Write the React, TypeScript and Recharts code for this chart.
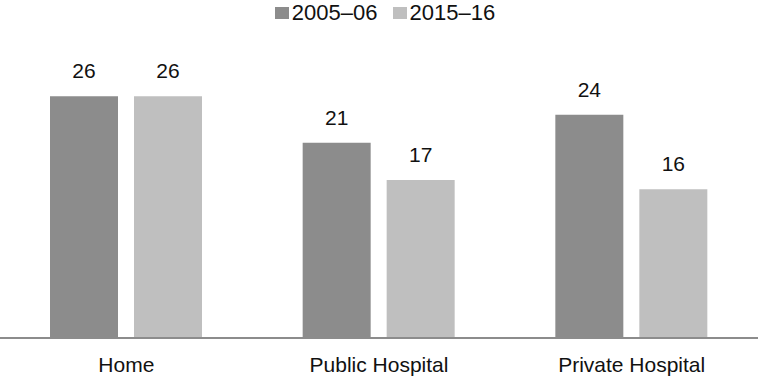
import { Bar, BarChart, LabelList, Legend, XAxis, YAxis } from "recharts";

const categories = ["Home", "Public Hospital", "Private Hospital"];
const values0506 = [26, 21, 24];
const values1516 = [26, 17, 16];
const seriesNames = ["2005–06", "2015–16"];
const seriesColors = ["#8c8c8c", "#bfbfbf"];

const data = categories.map((name, i) => ({
  name,
  a: values0506[i],
  b: values1516[i],
}));

function LegendBox() {
  return (
    <div style={{ display: "flex", justifyContent: "center", gap: 15, height: 26, paddingLeft: 12 }}>
      {seriesNames.map((n, i) => (
        <div key={n} style={{ display: "flex", alignItems: "center", gap: 3 }}>
          <span style={{ width: 14, height: 12, background: seriesColors[i], display: "inline-block" }} />
          <span style={{ fontSize: 22, color: "#111", lineHeight: "26px" }}>{n}</span>
        </div>
      ))}
    </div>
  );
}

export default function App() {
  return (
    <div
      style={{
        position: "absolute",
        left: 0,
        top: 0,
        width: 758,
        height: 379,
        background: "#fff",
        fontFamily: "'Liberation Sans', Arial, sans-serif",
      }}
    >
      <BarChart
        width={758}
        height={379}
        data={data}
        margin={{ top: 33, right: 0, left: 0, bottom: 0 }}
        barSize={68}
        barGap={16}
      >
        <Legend
          verticalAlign="top"
          height={26}
          wrapperStyle={{ top: 0 }}
          content={() => <LegendBox />}
        />
        <XAxis
          dataKey="name"
          axisLine={{ stroke: "#8c8c8c", strokeWidth: 2 }}
          tickLine={false}
          height={41}
          tickMargin={13}
          tick={{ fill: "#111", fontSize: 21 }}
        />
        <YAxis hide domain={[0, 30]} />
        <Bar dataKey="a" name={seriesNames[0]} fill={seriesColors[0]} isAnimationActive={false}>
          <LabelList dataKey="a" position="top" offset={18} fill="#111" fontSize={21} />
        </Bar>
        <Bar dataKey="b" name={seriesNames[1]} fill={seriesColors[1]} isAnimationActive={false}>
          <LabelList dataKey="b" position="top" offset={18} fill="#111" fontSize={21} />
        </Bar>
      </BarChart>
    </div>
  );
}
